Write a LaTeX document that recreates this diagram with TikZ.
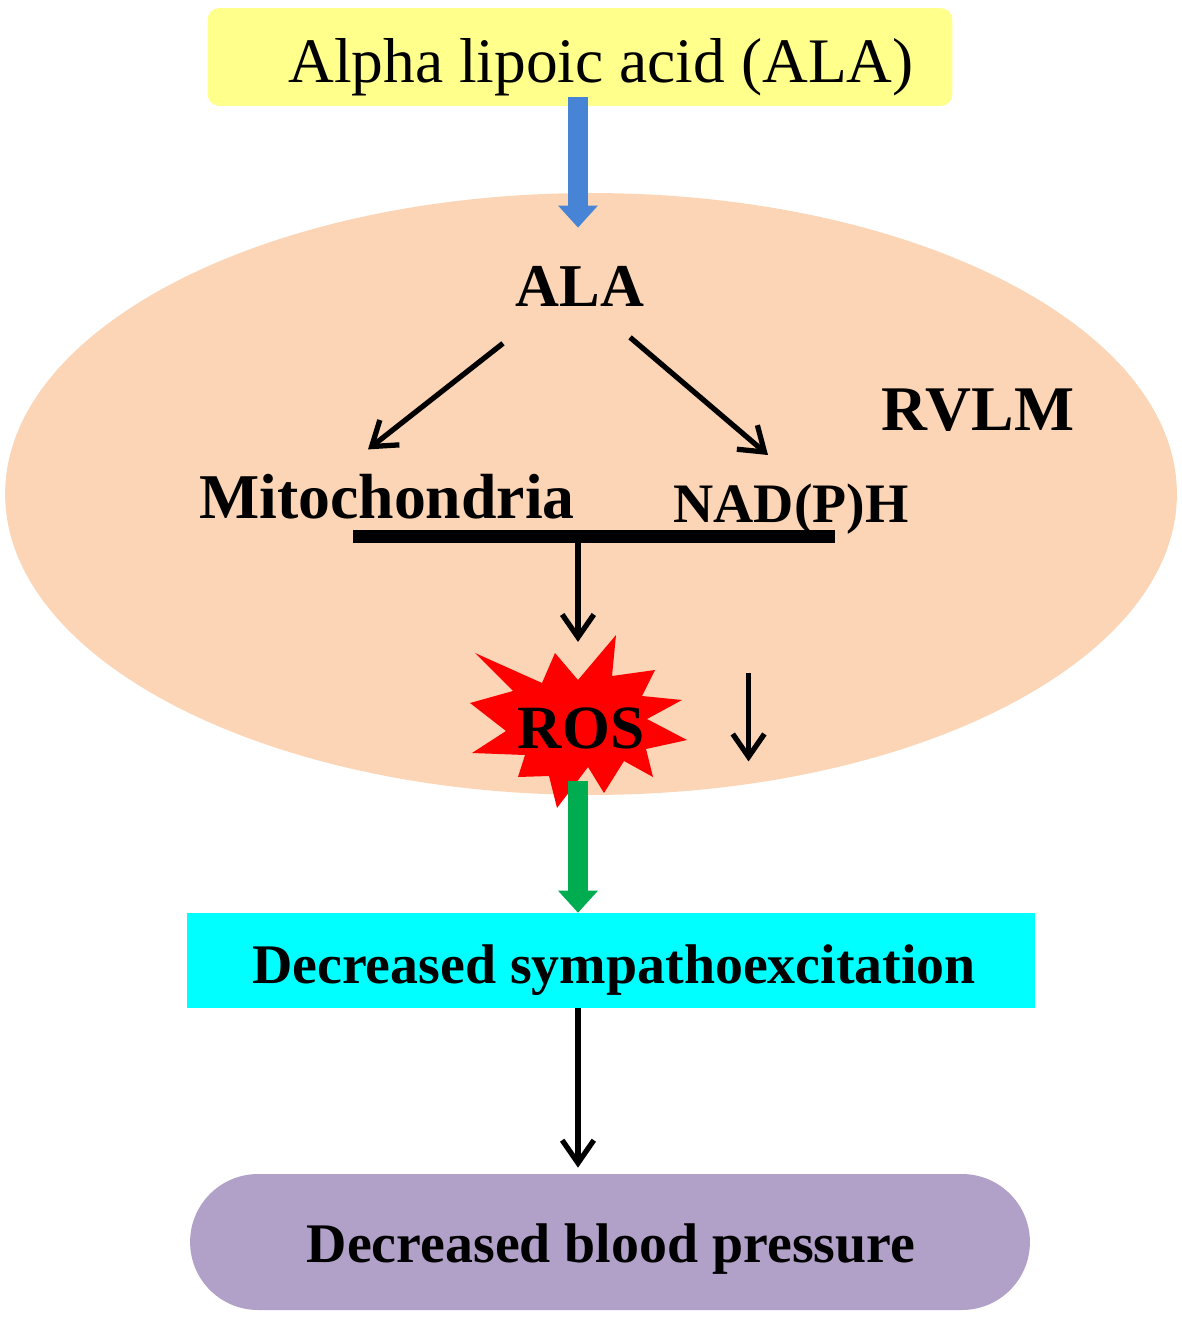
\documentclass[tikz,border=0pt]{standalone}
\usepackage{fontspec}
\setmainfont{Liberation Serif}
\usetikzlibrary{arrows.meta}
\usetikzlibrary{shapes.geometric}

\definecolor{alayellow}{RGB}{255,255,140}
\definecolor{rvlmpeach}{RGB}{251,213,181}
\definecolor{rosred}{RGB}{255,0,0}
\definecolor{inblue}{RGB}{72,132,214}
\definecolor{outgreen}{RGB}{0,172,80}
\definecolor{sympcyan}{RGB}{0,255,255}
\definecolor{bppurple}{RGB}{177,160,199}

\newcommand{\fsz}[1]{\fontsize{#1}{#1}\selectfont}

\begin{document}
\begin{tikzpicture}[x=0.02cm, y=-0.02cm,
    txt/.style={inner sep=0pt, anchor=base},
    boldtxt/.style={txt, font=\bfseries\fsz{#1}},
    thinarrow/.style={line width=3pt, -{Straight Barb[length=13pt, width=18pt]}},
    fatarrow/.style={line width=11.3pt, -{Triangle[length=12.5pt, width=22.7pt, line width=0pt]}}]
      \useasboundingbox (0,0) rectangle (1181,1317);
      \coordinate (spine) at (578,0);

      \node[ellipse, fill=rvlmpeach, inner sep=0pt, minimum width=23.44cm, minimum height=12.04cm] (rvlm) at (591,494) {};
      \node[fill=alayellow, rounded corners=0.24cm, minimum width=14.9cm, minimum height=1.96cm] (alabox) at (580,57) {};
      \node[txt, font=\fsz{36.1}] (alphatext) at (601,83) {Alpha lipoic acid (ALA)};

      \node[boldtxt=34.6] (ala) at (580,307) {ALA};
      \node[boldtxt=36.2] (rvlmtext) at (978,430) {RVLM};
      \node[boldtxt=36.3] (mito) at (387,518) {Mitochondria};
      \node[boldtxt=31.7] (nadph) at (791,522) {NAD(P)H};
      \node[fill=black, inner sep=0pt, minimum width=9.64cm, minimum height=0.26cm] (bar) at (594,536) {};

      \fill[rosred] (616,635) -- (612,676) -- (655,670) -- (642,696) -- (682,700) -- (647,719)
        -- (687,740) -- (646,749) -- (653,777) -- (624,761) -- (604,793) -- (588,767)
        -- (557,808) -- (549,776) -- (518,777) -- (525,755) -- (472,753) -- (506,731)
        -- (470,703) -- (513,691) -- (475,653) -- (542,683) -- (555,653) -- (578,680) -- cycle;
      \node[boldtxt=35] (ros) at (581,748) {ROS};

      \node[fill=sympcyan, minimum width=16.96cm, minimum height=1.9cm] (sympbox) at (611,960.5) {};
      \node[boldtxt=31.8] (symptext) at (614,983) {Decreased sympathoexcitation};
      \node[fill=bppurple, rounded corners=1.36cm, minimum width=16.8cm, minimum height=2.72cm] (bpbox) at (610,1242) {};
      \node[boldtxt=31.8] (bptext) at (611,1262) {Decreased blood pressure};

      \draw[fatarrow, inblue] ([yshift=0.18cm]alabox.south -| spine) -- ([yshift=0.78cm]ala.north -| spine);
      \draw[thinarrow] ([xshift=-0.25cm, yshift=-0.72cm]ala.south west) -- ([xshift=-0.38cm, yshift=0.48cm]mito.north);
      \draw[thinarrow] ([xshift=-0.29cm, yshift=-0.6cm]ala.south east) -- ([xshift=-0.46cm, yshift=0.56cm]nadph.north);
      \draw[thinarrow] (bar.south -| spine) -- ([yshift=1.3cm]ros.north -| spine);
      \draw[thinarrow] ([xshift=2.08cm, yshift=1.09cm]ros.east) -- ([xshift=2.08cm, yshift=-0.67cm]ros.east);
      \draw[fatarrow, outgreen] ([yshift=-0.64cm]ros.south -| spine) -- (sympbox.north -| spine);
      \draw[thinarrow] (sympbox.south -| spine) -- ([yshift=0.12cm]bpbox.north -| spine);

    \end{tikzpicture}
\end{document}
